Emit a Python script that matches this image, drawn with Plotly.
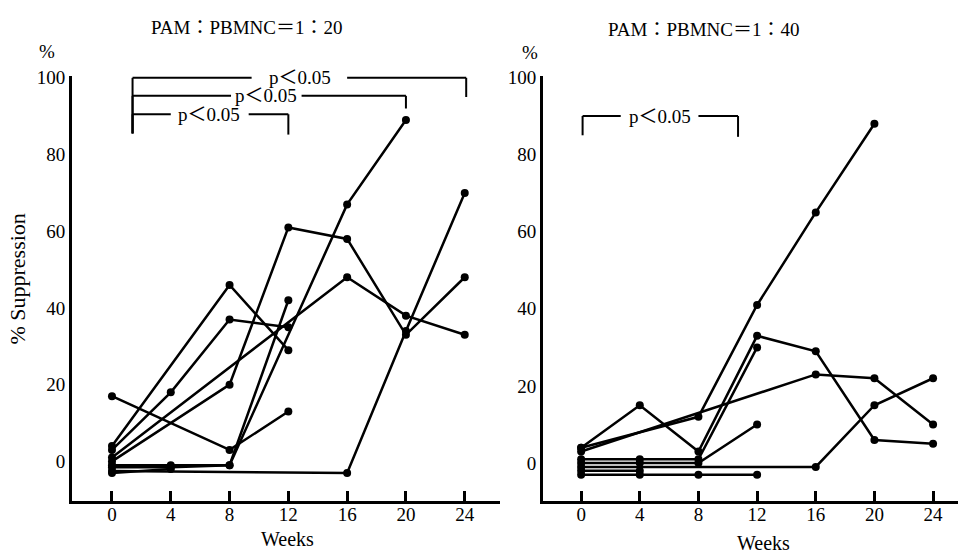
import plotly.graph_objects as go

weeks = [0, 4, 8, 12, 16, 20, 24]
x_ticks = [0, 4, 8, 12, 16, 20, 24]
y_ticks = [0, 20, 40, 60, 80, 100]

# Left panel (PAM:PBMNC = 1:20), % suppression per patient (None = not measured)
left_series = [
    [4, None, 46, 29, None, None, None],
    [3, 18, 37, 35, None, None, None],
    [1, None, None, None, 48, 38, 33],
    [17, None, 3, 13, None, None, None],
    [0, None, 20, 61, 58, 33, 48],
    [-1, -1, -1, 42, None, None, None],
    [-2.5, None, None, None, -3, 34, 70],
    [-1.5, -1.5, -1, None, 67, 89, None],
    [-3, -2, None, None, None, None, None],
]

# Right panel (PAM:PBMNC = 1:40)
right_series = [
    [4, None, 12, 41, 65, 88, None],
    [3, None, None, None, 23, 22, 10],
    [4, 15, 3, 33, 29, 6, 5],
    [1, 1, 1, 30, None, None, None],
    [0, 0, 0, 10, None, None, None],
    [-1, None, None, None, -1, 15, 22],
    [-3, -3, -3, -3, None, None, None],
    [-2, -2, None, None, None, None, None],
]

# significance brackets: (start week, end week, level, left-drop level, right-drop level, label centre week)
left_brackets = [
    (1.4, 24.1, 100, 85.5, 95, 12.8),
    (1.4, 20.0, 95.3, 85.5, 92, 10.5),
    (1.4, 12.0, 90.5, 85.5, 85.2, 6.6),
]
right_brackets = [
    (0.1, 10.7, 90, 85, 84.6, 5.4),
]
p_label = "p＜0.05"

titles = ["PAM：PBMNC＝1：20", "PAM：PBMNC＝1：40"]

FONT = "Liberation Serif, DejaVu Serif, Noto Sans CJK JP, serif"

fig = go.Figure()

def add_panel(series, xa, ya):
    for s in series:
        fig.add_trace(go.Scatter(
            x=weeks, y=s, xaxis=xa, yaxis=ya, mode="lines+markers",
            connectgaps=True,
            line=dict(color="black", width=2.5),
            marker=dict(color="black", size=8),
            showlegend=False, hoverinfo="skip",
        ))

add_panel(left_series, "x", "y")
add_panel(right_series, "x2", "y2")

def add_brackets(brackets, xref, yref, gaps):
    for (x0, x1, lvl, d0, d1, xc), (g0, g1) in zip(brackets, gaps):
        line = dict(color="black", width=2)
        fig.add_shape(type="line", xref=xref, yref=yref, x0=x0, x1=x0, y0=d0, y1=lvl, line=line)
        fig.add_shape(type="line", xref=xref, yref=yref, x0=x1, x1=x1, y0=d1, y1=lvl, line=line)
        fig.add_shape(type="line", xref=xref, yref=yref, x0=x0, x1=g0, y0=lvl, y1=lvl, line=line)
        fig.add_shape(type="line", xref=xref, yref=yref, x0=g1, x1=x1, y0=lvl, y1=lvl, line=line)
        fig.add_annotation(x=xc, y=lvl, xref=xref, yref=yref, text=p_label, showarrow=False,
                           xanchor="center", yanchor="middle",
                           font=dict(family=FONT, size=19, color="black"))

add_brackets(left_brackets, "x", "y", [(9.5, 16.0), (8.1, 12.9), (4.0, 9.3)])
add_brackets(right_brackets, "x2", "y2", [(2.7, 8.0)])

axis_common = dict(
    showgrid=False, zeroline=False, showline=True, linecolor="black", linewidth=3,
    tickfont=dict(family=FONT, size=19, color="black"),
)

fig.update_layout(
    width=959, height=555,
    margin=dict(l=0, r=0, t=0, b=0),
    paper_bgcolor="white", plot_bgcolor="white",
    xaxis=dict(domain=[72/959, 500/959], range=[-2.72, 26.4], tickvals=x_ticks,
               ticks="inside", ticklen=10, tickwidth=2.5, tickcolor="black", anchor="y",
               ticklabelstandoff=-6, **axis_common),
    yaxis=dict(domain=[55/555, 487/555], range=[-10.3, 100.5], tickvals=y_ticks,
               ticks="", anchor="x", **axis_common),
    xaxis2=dict(domain=[543/959, 958/959], range=[-2.6, 25.7], tickvals=x_ticks,
                ticks="inside", ticklen=10, tickwidth=2.5, tickcolor="black", anchor="y2",
                ticklabelstandoff=-6, **axis_common),
    yaxis2=dict(domain=[55/555, 487/555], range=[-9.8, 100.4], tickvals=y_ticks,
                ticks="", anchor="x2", **axis_common),
)

def paper_text(px, py, text, size=19, angle=0):
    fig.add_annotation(x=px/959, y=1 - py/555, xref="paper", yref="paper", text=text,
                       showarrow=False, xanchor="center", yanchor="middle", textangle=angle,
                       font=dict(family=FONT, size=size, color="black"))

paper_text(246, 19, titles[0])
paper_text(703, 21, titles[1])
paper_text(47, 43, "%")
paper_text(530, 44, "%")
paper_text(18, 275, "% Suppression", size=22, angle=-90)
paper_text(287, 539, "Weeks", size=20)
paper_text(763, 543, "Weeks", size=20)

fig.write_html("out.html")
